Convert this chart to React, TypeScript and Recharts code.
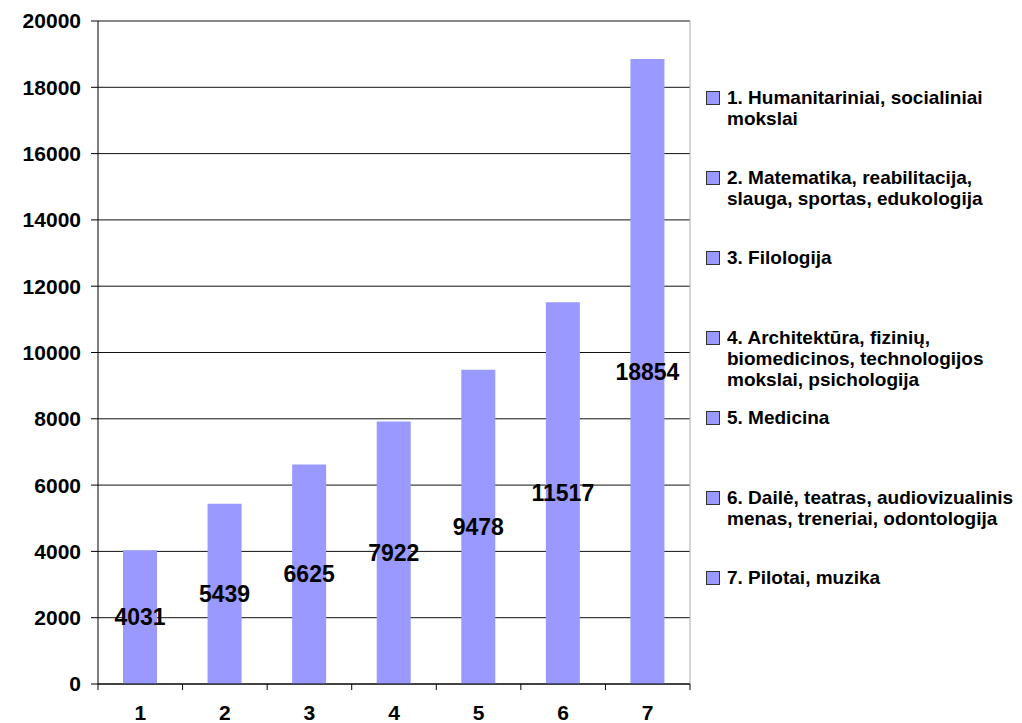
import { Bar, BarChart, CartesianGrid, LabelList, XAxis, YAxis } from "recharts";

const categories = ["1", "2", "3", "4", "5", "6", "7"];
const values = [4031, 5439, 6625, 7922, 9478, 11517, 18854];
const yTicks = [0, 2000, 4000, 6000, 8000, 10000, 12000, 14000, 16000, 18000, 20000];
const legendLabels = [
  "1. Humanitariniai, socialiniai mokslai",
  "2. Matematika, reabilitacija, slauga, sportas, edukologija",
  "3. Filologija",
  "4. Architektūra, fizinių, biomedicinos, technologijos mokslai, psichologija",
  "5. Medicina",
  "6. Dailė, teatras, audiovizualinis menas, treneriai, odontologija",
  "7. Pilotai, muzika",
];

const W = 1022;
const H = 723;
const LEFT = 98;
const RIGHT = 332;
const PLOT_W = W - LEFT - RIGHT;
const BAR = "#9999ff";
const FONT = "Arial, 'Liberation Sans', sans-serif";

const data = categories.map((c, i) => ({ name: c, value: values[i] }));

// category labels sit mid-band, tick marks sit on the band edges
function CategoryTick(props: any) {
  const { x, y, payload, index, visibleTicksCount } = props;
  const n = visibleTicksCount || categories.length;
  const half = PLOT_W / n / 2;
  return (
    <g>
      <line x1={x - half} y1={y} x2={x - half} y2={y + 6} stroke="#000" />
      {index === n - 1 && <line x1={x + half} y1={y} x2={x + half} y2={y + 6} stroke="#000" />}
      <text
        x={x}
        y={y + 36}
        textAnchor="middle"
        fontFamily={FONT}
        fontWeight="bold"
        fontSize={21}
        fill="#000"
      >
        {payload.value}
      </text>
    </g>
  );
}

export default function App() {
  return (
    <div style={{ position: "absolute", left: 0, top: 0, width: W, height: H, background: "#fff" }}>
      <BarChart
        width={W}
        height={H}
        data={data}
        margin={{ top: 21, right: RIGHT, bottom: 0, left: 0 }}
        barSize={34}
      >
        <CartesianGrid vertical={false} stroke="#111" />
        <CartesianGrid
          horizontal={false}
          stroke="#aaa"
          verticalCoordinatesGenerator={({ offset }: any) => [offset.left + offset.width]}
        />
        <XAxis
          dataKey="name"
          height={39}
          axisLine={{ stroke: "#000" }}
          tickLine={false}
          tickSize={0}
          tickMargin={0}
          tick={<CategoryTick />}
          interval={0}
        />
        <YAxis
          width={LEFT}
          domain={[0, 20000]}
          ticks={yTicks}
          interval={0}
          axisLine={{ stroke: "#000" }}
          tickLine={{ stroke: "#000" }}
          tickSize={7}
          tickMargin={10}
          tick={{ fill: "#000", fontFamily: FONT, fontWeight: "bold", fontSize: 21 }}
        />
        <Bar dataKey="value" fill={BAR} isAnimationActive={false}>
          <LabelList
            dataKey="value"
            position="center"
            fill="#000"
            fontFamily={FONT}
            fontWeight="bold"
            fontSize={23}
          />
        </Bar>
      </BarChart>
      <div
        style={{
          position: "absolute",
          left: 706,
          top: 87,
          width: 310,
          fontFamily: FONT,
          fontWeight: "bold",
          fontSize: 19,
          lineHeight: "21px",
          color: "#000",
        }}
      >
        {legendLabels.map((label) => (
          <div key={label} style={{ display: "flex", height: 80, alignItems: "flex-start" }}>
            <span
              style={{
                flex: "0 0 auto",
                width: 12,
                height: 12,
                marginTop: 4,
                marginRight: 7,
                background: BAR,
                border: "1px solid #333",
              }}
            />
            <span>{label}</span>
          </div>
        ))}
      </div>
    </div>
  );
}
